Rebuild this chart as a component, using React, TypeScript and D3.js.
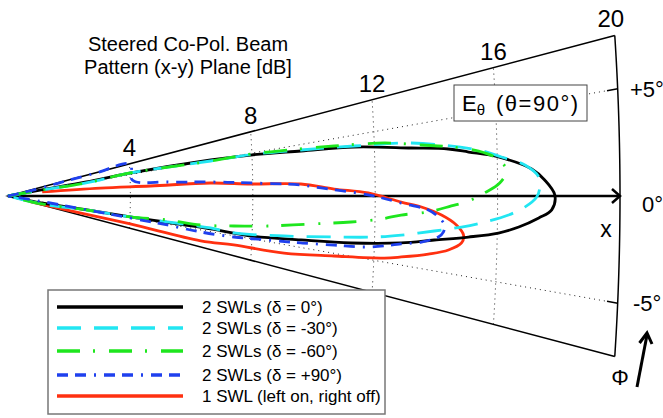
import React from 'react';
import * as d3 from 'd3';

// beam pattern samples, [phi in degrees, gain in dB above the -20 dB floor]
const swl2_d0: [number, number][] = [
  [5.3, 0], [5.2, 1.05], [5.1, 2.57], [5.34, 4.0], [5.05, 6.65], [4.8, 7.96], [4.37, 9.6],
  [4.03, 11.34], [3.39, 13.2], [3.04, 14.41], [2.72, 15.07], [2.27, 16.04], [1.47, 17.12],
  [0.85, 17.54], [0.05, 17.87], [-0.73, 17.77], [-1.18, 17.35], [-1.73, 16.7], [-2.15, 16.04],
  [-2.54, 15.06], [-2.94, 13.95], [-3.4, 12.87], [-3.9, 11.24], [-4.27, 9.6], [-4.69, 7.96],
  [-4.63, 6.64], [-4.87, 4.01], [-5.0, 2.6], [-5.8, 1.2], [-5.5, 0]
];
const swl2_d30: [number, number][] = [
  [5.2, 0], [5.0, 1.05], [4.8, 2.6], [5.34, 4.02], [4.91, 6.65], [4.85, 7.96], [4.47, 9.6],
  [4.11, 11.34], [3.74, 13.21], [2.78, 15.4], [2.25, 16.14], [1.71, 16.9], [1.02, 17.35],
  [0.48, 17.38], [-0.05, 17.28], [-0.61, 16.89], [-1.08, 16.36], [-1.56, 15.58], [-1.95, 14.83],
  [-2.34, 13.94], [-2.83, 12.87], [-3.19, 11.99], [-3.58, 10.68], [-4.12, 9.04], [-4.66, 7.4],
  [-4.49, 6.64], [-4.87, 4.01], [-5.03, 2.6], [-6.6, 1.16], [-5.5, 0]
];
const swl2_d60: [number, number][] = [
  [5.2, 0], [5.0, 1.05], [4.8, 2.6], [5.34, 4.02], [4.91, 6.65], [4.92, 7.96], [4.67, 9.18],
  [4.36, 10.69], [4.01, 12.33], [3.51, 13.54], [3.15, 14.51], [2.72, 15.4], [2.28, 15.91],
  [1.49, 16.3], [0.75, 16.07], [0.18, 15.57], [-0.31, 15.05], [-0.64, 14.49], [-1.08, 13.74],
  [-1.38, 12.85], [-1.76, 12.2], [-2.16, 11.22], [-2.63, 9.91], [-3.29, 8.5], [-3.78, 7.4],
  [-4.29, 6.31], [-4.28, 5.22], [-4.87, 4.01], [-5.03, 2.6], [-6.6, 1.16], [-5.5, 0]
];
const swl2_p90: [number, number][] = [
  [6.5, 0], [6.8, 1.06], [7.3, 1.72], [7.4, 2.9], [7.4, 4.03], [3.66, 4.07], [2.5, 5.22],
  [1.97, 6.63], [1.53, 7.94], [1.07, 9.57], [0.73, 10.23], [0.33, 11.21], [-0.08, 12.1],
  [-0.51, 12.85], [-0.95, 13.74], [-1.39, 14.07], [-1.89, 14.27], [-2.36, 14.24], [-2.71, 14.08],
  [-3.17, 13.53], [-3.47, 12.87], [-4.03, 11.8], [-4.28, 10.69], [-4.56, 9.6], [-4.81, 8.52],
  [-5.16, 7.41], [-5.31, 6.32], [-5.17, 5.23], [-5.1, 4.02], [-5.03, 2.6], [-4.6, 1.05], [-4.5, 0]
];
const swl1_left: [number, number][] = [
  [3.35, 1.12], [2.46, 3.02], [2.0, 4.66], [1.83, 6.62], [1.41, 7.94], [1.17, 9.57], [0.61, 10.66],
  [0.24, 11.77], [-0.44, 12.85], [-0.76, 13.51], [-1.25, 14.17], [-1.84, 14.66], [-2.44, 14.9],
  [-2.95, 14.84], [-3.49, 14.42], [-3.93, 13.77], [-4.41, 12.89], [-4.69, 12.34], [-5.23, 10.7],
  [-5.87, 9.07], [-6.16, 7.42], [-6.6, 6.34], [-6.5, 4.02], [-6.72, 1.95], [-7.4, 0.75]
];

const ringTicks = [4, 8, 12, 16, 20];
const angleTicks = [5, 0, -5];
const angleLabels = ['+5°', '0°', '-5°'];
const legendLabels = [
  '2 SWLs (δ = 0°)',
  '2 SWLs (δ = -30°)',
  '2 SWLs (δ = -60°)',
  '2 SWLs (δ = +90°)',
  '1 SWL (left on, right off)'
];

const series = [
  { data: swl1_left, color: '#ff3010', dash: null, li: 4 },
  { data: swl2_d0, color: '#000000', dash: null, li: 0 },
  { data: swl2_d30, color: '#22e6f2', dash: '24 13', li: 1 },
  { data: swl2_d60, color: '#1ee61e', dash: '23 13 2 14', li: 2 },
  { data: swl2_p90, color: '#1f40ee', dash: '11 7 11 8 2 8', li: 3 }
];

const PHI_MAX = 7.5;
const FONT = 'Liberation Sans, Arial, Helvetica, sans-serif';

export default function App() {
  const x = d3.scaleLinear().domain([0, 20]).range([8, 620]);
  const y = d3.scaleLinear().domain([0, 1]).range([196, 134.5]);
  const rad = (d: number) => (d * Math.PI) / 180;
  const proj = (phi: number, r: number): [number, number] => [
    x(r * Math.cos(rad(phi))),
    y(r * Math.sin(rad(phi)))
  ];

  const line = d3.line<[number, number]>().curve(d3.curveCatmullRom.alpha(0.5));
  const straight = d3.line<[number, number]>();

  const arcPts = (r: number) =>
    d3.range(-PHI_MAX, PHI_MAX + 0.001, 0.25).map(p => proj(p, r));

  const legendRows = [307, 328, 351, 375, 396];
  const legendSeries = [1, 2, 3, 4, 0].map(i => series[i]);

  return (
    <svg width={663} height={418} style={{ position: 'absolute', left: 0, top: 0, background: '#fff' }}
      fontFamily={FONT}>
      {/* title */}
      <text x={188} y={51} fontSize={20} textAnchor="middle">Steered Co-Pol. Beam</text>
      <text x={188} y={74} fontSize={20} textAnchor="middle">Pattern (x-y) Plane [dB]</text>

      {/* dotted rings */}
      {ringTicks.slice(0, 4).map(r => (
        <path key={'ring' + r} d={straight(arcPts(r)) || ''} fill="none" stroke="#222"
          strokeWidth={1} strokeDasharray="1 4" />
      ))}
      {/* dotted radials at +-5 */}
      {[5, -5].map(p => (
        <g key={'rad' + p}>
          <path d={straight([proj(p, 0), proj(p, 19.6)]) || ''} stroke="#222" strokeWidth={1}
            strokeDasharray="1 4" fill="none" />
          <path d={straight([proj(p, 19.65), proj(p, 20)]) || ''} stroke="#000" strokeWidth={1.5} />
        </g>
      ))}
      {/* wedge frame */}
      <path d={straight([proj(PHI_MAX, 20), proj(0, 0), proj(-PHI_MAX, 20)]) || ''} fill="none"
        stroke="#000" strokeWidth={1.5} />
      <path d={straight(arcPts(20)) || ''} fill="none" stroke="#000" strokeWidth={1.5} />

      {/* x axis arrow */}
      <path d={straight([proj(0, 0), proj(0, 20)]) || ''} stroke="#000" strokeWidth={2.5} />
      <path d={`M${x(20) - 8},${y(0) - 7}L${x(20)},${y(0)}L${x(20) - 8},${y(0) + 7}`}
        fill="none" stroke="#000" strokeWidth={2.5} />

      {/* curves */}
      {series.map((s, i) => (
        <path key={'s' + i} d={line(s.data.map(d => proj(d[0], d[1]))) || ''} fill="none"
          stroke={s.color} strokeWidth={2.8} strokeDasharray={s.dash || undefined} />
      ))}

      {/* ring labels */}
      {ringTicks.map(r => {
        const p = proj(PHI_MAX, r);
        return (
          <text key={'rl' + r} x={r === 20 ? p[0] - 4 : p[0]} y={p[1] - 8} fontSize={24}
            textAnchor="middle">{r}</text>
        );
      })}
      {/* angle labels */}
      {angleTicks.map((a, i) => {
        const p = proj(a, 20);
        return (
          <text key={'al' + a} x={a === 0 ? 642 : a > 0 ? 630 : 633} y={p[1] + (a === 0 ? 16 : 8)}
            fontSize={22}>{angleLabels[i]}</text>
        );
      })}
      <text x={606} y={237} fontSize={23} textAnchor="middle">x</text>
      <text x={620} y={385} fontSize={22} textAnchor="middle">Φ</text>
      <path d="M637,387L647,335" stroke="#000" strokeWidth={3} />
      <path d="M639.5,343L647,333L652,344" fill="none" stroke="#000" strokeWidth={3} />

      {/* E-theta box */}
      <rect x={454} y={85} width={133} height={36} fill="#fff" stroke="#444" strokeWidth={1} />
      <text x={462} y={111} fontSize={22}>
        E<tspan fontSize={15} dy={4}>θ</tspan>
      </text>
      <text x={496} y={111} fontSize={22} letterSpacing={1.5}>(θ=90°)</text>

      {/* legend */}
      <rect x={48} y={290} width={337} height={124} fill="#fff" stroke="#777" strokeWidth={1.5} />
      {legendSeries.map((s, i) => (
        <g key={'lg' + i}>
          <line x1={57} x2={183} y1={legendRows[i]} y2={legendRows[i]} stroke={s.color}
            strokeWidth={3.3} strokeDasharray={s.dash || undefined} />
          <text x={202} y={legendRows[i] + 6} fontSize={17}>{legendLabels[i]}</text>
        </g>
      ))}
    </svg>
  );
}
